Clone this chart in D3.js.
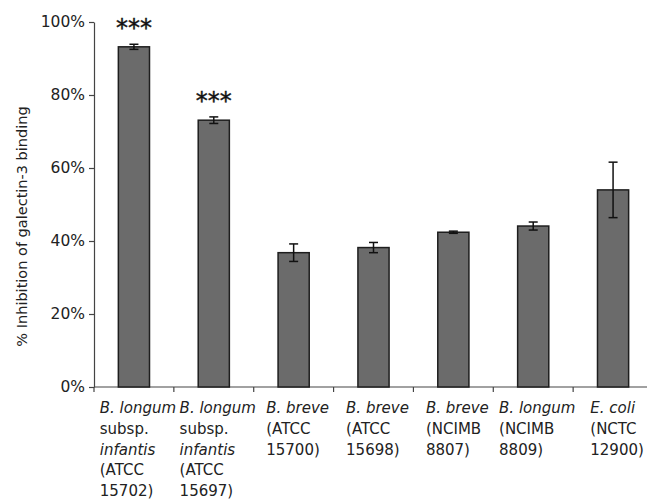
<!DOCTYPE html>
<html>
<head>
<meta charset="utf-8">
<script src="https://cdn.jsdelivr.net/npm/d3@7"></script>
<style>
  html, body { margin: 0; padding: 0; background: #fff; }
  svg { display: block; font-family: "DejaVu Sans", Verdana, sans-serif; }
</style>
</head>
<body>
<svg id="chart" width="647" height="501"></svg>
<script>
// Strains tested (one bar each)
const categories = ["BLI15702", "BLI15697", "BB15700", "BB15698", "BB8807", "BL8809", "EC12900"];

// Wrapped axis labels: each line is [text, italic?]
const labelLines = [
  [["B. longum", true], ["subsp.", false], ["infantis", true], ["(ATCC", false], ["15702)", false]],
  [["B. longum", true], ["subsp.", false], ["infantis", true], ["(ATCC", false], ["15697)", false]],
  [["B. breve", true], ["(ATCC", false], ["15700)", false]],
  [["B. breve", true], ["(ATCC", false], ["15698)", false]],
  [["B. breve", true], ["(NCIMB", false], ["8807)", false]],
  [["B. longum", true], ["(NCIMB", false], ["8809)", false]],
  [["E. coli", true], ["(NCTC", false], ["12900)", false]]
];

// Mean % inhibition and error (±)
const values = [93.2, 73.1, 36.8, 38.2, 42.4, 44.1, 54.0];
const errors = [0.7, 0.9, 2.4, 1.4, 0.3, 1.1, 7.6];
const significance = ["***", "***", "", "", "", "", ""];

const yTicks = [0, 20, 40, 60, 80, 100];
const yTitle = "% Inhibition of galectin-3 binding";

const svg = d3.select("#chart");
const plotLeft = 94, plotTop = 22, plotBottom = 387, plotRight = 653;

const x = d3.scaleBand().domain(categories).range([plotLeft, plotRight]).paddingInner(0).paddingOuter(0);
const y = d3.scaleLinear().domain([0, 100]).range([plotBottom, plotTop]);
const barW = x.bandwidth() * 0.39;

// Y axis
const yAxis = svg.append("g")
  .attr("transform", `translate(${plotLeft},0)`)
  .call(d3.axisLeft(y).tickValues(yTicks).tickFormat(d => d + "%").tickSize(5).tickSizeOuter(0));
yAxis.select(".domain").attr("stroke", "#444").attr("stroke-width", 1.2);
yAxis.selectAll(".tick line").attr("stroke", "#444").attr("stroke-width", 1.2);
yAxis.selectAll(".tick text")
  .attr("x", -9).attr("font-size", 15.5).attr("fill", "#222")
  .attr("font-family", "DejaVu Sans, Verdana, sans-serif");

// X axis line with ticks at category boundaries
const xAxis = svg.append("g");
xAxis.append("line")
  .attr("x1", plotLeft).attr("x2", plotRight).attr("y1", plotBottom).attr("y2", plotBottom)
  .attr("stroke", "#444").attr("stroke-width", 1.2);
const bounds = categories.map(c => x(c)).concat([x(categories[categories.length - 1]) + x.bandwidth()]);
xAxis.selectAll("line.tk").data(bounds).join("line")
  .attr("class", "tk")
  .attr("x1", d => d).attr("x2", d => d)
  .attr("y1", plotBottom).attr("y2", plotBottom + 5)
  .attr("stroke", "#444").attr("stroke-width", 1.2);

// Bars
svg.append("g").selectAll("rect").data(categories).join("rect")
  .attr("x", (c) => x(c) + x.bandwidth() / 2 - barW / 2)
  .attr("y", (c, i) => y(values[i]))
  .attr("width", barW)
  .attr("height", (c, i) => y(0) - y(values[i]))
  .attr("fill", "#6b6b6b")
  .attr("stroke", "#1e1e1e")
  .attr("stroke-width", 1.5);

// Error bars
const capW = 9;
const eb = svg.append("g").attr("stroke", "#111").attr("stroke-width", 1.5);
categories.forEach((c, i) => {
  const cx = x(c) + x.bandwidth() / 2;
  const hi = y(values[i] + errors[i]);
  const lo = y(values[i] - errors[i]);
  eb.append("line").attr("x1", cx).attr("x2", cx).attr("y1", hi).attr("y2", lo);
  eb.append("line").attr("x1", cx - capW / 2).attr("x2", cx + capW / 2).attr("y1", hi).attr("y2", hi);
  eb.append("line").attr("x1", cx - capW / 2).attr("x2", cx + capW / 2).attr("y1", lo).attr("y2", lo);
});

// Significance markers
svg.append("g").selectAll("text").data(categories).join("text")
  .attr("x", c => x(c) + x.bandwidth() / 2)
  .attr("y", (c, i) => y(values[i] + errors[i]) - 8)
  .attr("text-anchor", "middle")
  .attr("font-size", 24)
  .attr("fill", "#111")
  .attr("stroke", "#111")
  .attr("stroke-width", 0.4)
  .text((c, i) => significance[i]);

// Category labels: left-aligned block centred under each bar
const lineH = 20.8;
categories.forEach((c, i) => {
  const g = svg.append("g");
  const t = g.append("text").attr("font-size", 15).attr("fill", "#222");
  labelLines[i].forEach(([txt, it], j) => {
    t.append("tspan")
      .attr("x", 0)
      .attr("y", 413 + j * lineH)
      .attr("font-style", it ? "italic" : "normal")
      .text(txt);
  });
  const w = t.node().getBBox().width;
  const cx = x(c) + x.bandwidth() / 2;
  g.attr("transform", `translate(${cx - w / 2 + 4},0)`);
});

// Y axis title
svg.append("text")
  .attr("transform", `translate(27,${(plotTop + plotBottom) / 2 + 22}) rotate(-90)`)
  .attr("text-anchor", "middle")
  .attr("font-size", 14.5)
  .attr("fill", "#222")
  .text(yTitle);
</script>
</body>
</html>
